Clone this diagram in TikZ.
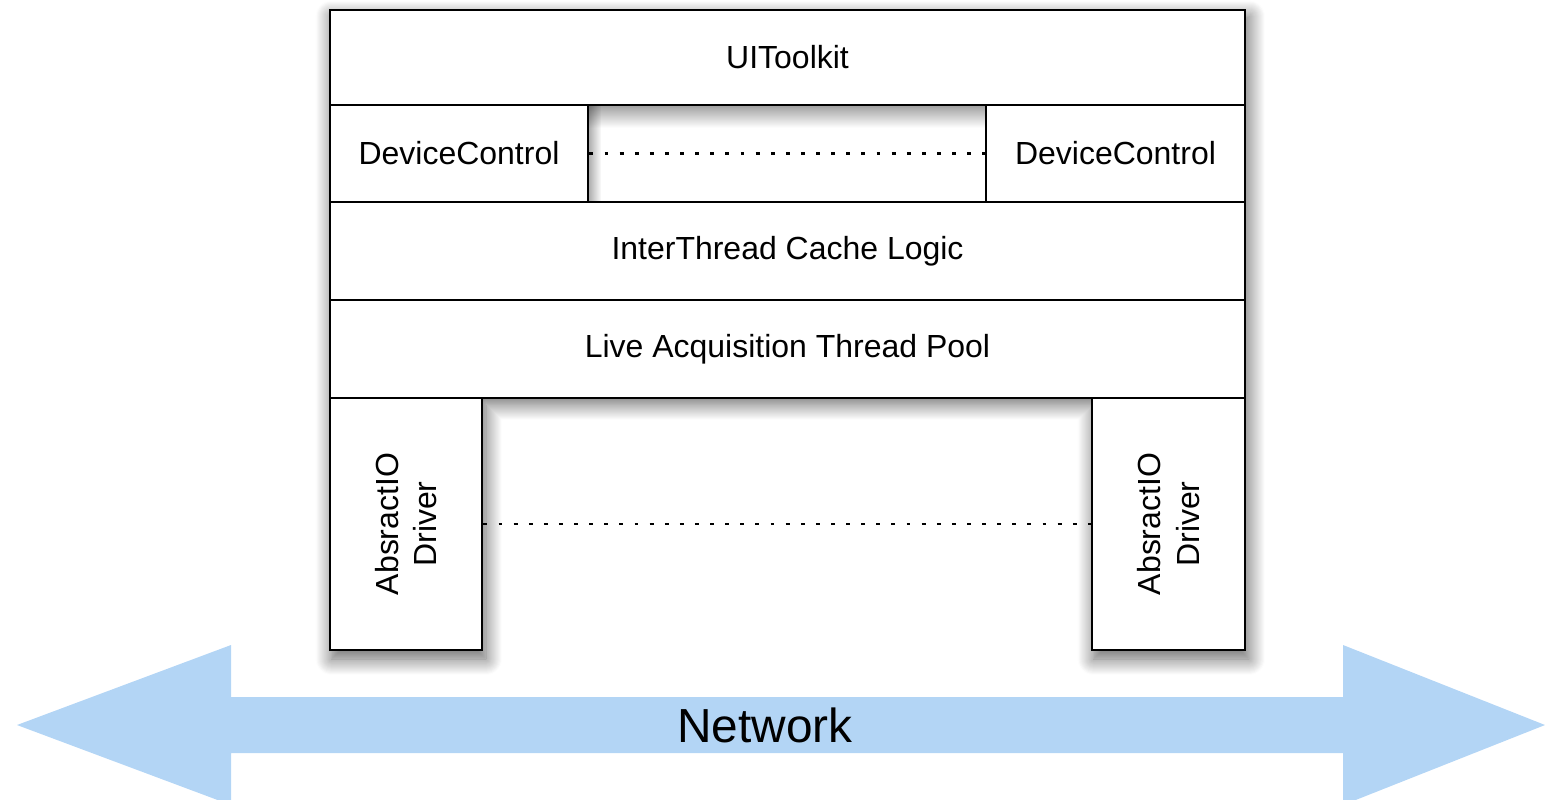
\documentclass[tikz,border=0pt]{standalone}
\usepackage{fontspec}
\setmainfont{Liberation Sans}
\usetikzlibrary{positioning,shadows.blur,backgrounds,fadings}
\definecolor{netblue}{HTML}{B3D5F5}

\begin{document}
\begin{tikzpicture}[
  layer/.style={draw,fill=white,line width=0.8pt,inner sep=0pt,font=\fontsize{9.1}{11}\selectfont},
  shade/.style={blur shadow={shadow xshift=0.8pt,shadow yshift=-2.2pt,
      shadow blur radius=4.5pt,shadow blur steps=16,shadow opacity=60}},
  link/.style={line width=0.7pt,dash pattern=on 1.1pt off 3.2pt}]
  \useasboundingbox (0,0) rectangle (15.45,-7.99);

  % Network arrow
  \fill[netblue] (0.17,-7.25) -- (2.31,-6.45) -- (2.31,-6.97) -- (13.43,-6.97)
    -- (13.43,-6.45) -- (15.45,-7.25) -- (13.43,-8.05) -- (13.43,-7.53)
    -- (2.31,-7.53) -- (2.31,-8.05) -- cycle;
  \node[font=\fontsize{13.6}{16}\selectfont] (net) at (7.65,-7.25) {Network};

  % Stack of layers
  \node[layer,minimum width=9.15cm,minimum height=0.95cm] (ui) at (7.875,-0.575) {UIToolkit};
  \node[layer,minimum width=2.58cm,minimum height=0.97cm] (dcl) at (4.59,-1.535) {DeviceControl};
  \node[layer,minimum width=2.59cm,minimum height=0.97cm] (dcr) at (11.155,-1.535) {DeviceControl};
  \node[layer,minimum width=9.15cm,minimum height=0.98cm] (itc) at (7.875,-2.51) {InterThread Cache Logic};
  \node[layer,minimum width=9.15cm,minimum height=0.98cm] (lat) at (7.875,-3.49) {Live Acquisition Thread Pool};
  \node[layer,minimum width=1.52cm,minimum height=2.52cm] (iol) at (4.06,-5.24) {};
  \node[layer,minimum width=1.53cm,minimum height=2.52cm] (ior) at (11.685,-5.24) {};
  \node[rotate=90,align=center,font=\fontsize{9.1}{11}\selectfont] (iolt) at (iol) {AbsractIO\\Driver};
  \node[rotate=90,align=center,font=\fontsize{9.1}{11}\selectfont] (iort) at (ior) {AbsractIO\\Driver};

  % Shadows behind the layers
  \begin{scope}[on background layer]
    \path[shade] (ui.north west) -- (ui.north east) -- (ior.south east) -- (ior.south west)
      -- (ior.north west) -- (iol.north east) -- (iol.south east) -- (iol.south west) -- cycle;
    \fill[white] (dcl.north east) rectangle (dcr.south west);
    \fill[black,fill opacity=0.4,path fading=south] (dcl.north east) rectangle ([yshift=-0.24cm]dcr.north west);
    \fill[black,fill opacity=0.3,path fading=east] (dcl.north east) rectangle ([xshift=0.12cm]dcl.south east);
  \end{scope}

  % Peer links
  \draw[link] (dcl) -- (dcr);
  \draw[link] (iol) -- (ior);
\end{tikzpicture}
\end{document}
